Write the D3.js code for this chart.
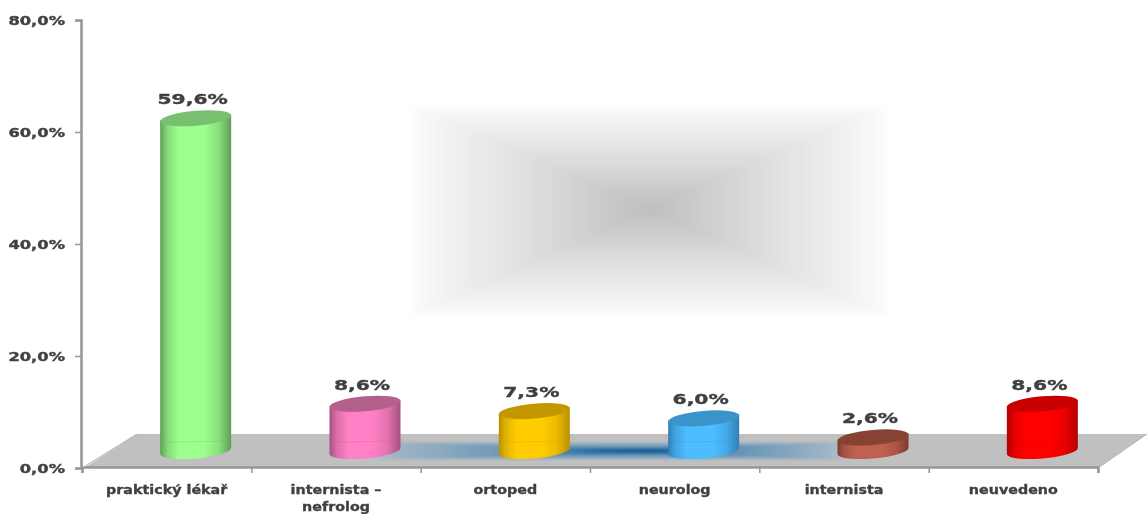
<!DOCTYPE html>
<html>
<head>
<meta charset="utf-8">
<script src="https://cdnjs.cloudflare.com/ajax/libs/d3/7.8.5/d3.min.js"></script>
<style>
    html, body { margin: 0; padding: 0; background: #ffffff; }
    svg { display: block; }
    text { font-family: "DejaVu Sans", sans-serif; font-weight: bold; fill: #404040; stroke: #404040; stroke-width: 0.35px; filter: blur(0.4px); }
</style>
</head>
<body>
<div id="chart"></div>
<script>
const categories = ["praktický lékař", ["internista –", "nefrolog"], "ortoped", "neurolog", "internista", "neuvedeno"];
const values = [59.6, 8.6, 7.3, 6.0, 2.6, 8.6];
const valueLabels = ["59,6%", "8,6%", "7,3%", "6,0%", "2,6%", "8,6%"];
const bodyColors = ["#9dff8c", "#ff80c4", "#ffcc00", "#4dbdff", "#c0614f", "#ff0000"];
const edgeColors = ["#5f9e56", "#a3527f", "#b98f00", "#2f80b3", "#7c3d31", "#b30000"];
const topColors = ["#78c070", "#b3608c", "#c49600", "#3a94c9", "#864334", "#c90000"];
const yTicks = [0, 20, 40, 60, 80];

const width = 1147, height = 514;
const margin = { top: 20, left: 82, bottom: 468, right: 1098 };
const depth = 17;   // posun zadni steny
const floorDepth = 34;

const svg = d3.select("#chart").append("svg")
    .attr("width", width)
    .attr("height", height);
const defs = svg.append("defs");

const y = d3.scaleLinear().domain([0, 80]).range([margin.bottom, margin.top]);
const x = d3.scaleBand().domain(d3.range(categories.length)).range([margin.left, margin.right]);
const xEdges = d3.scaleLinear().domain([0, categories.length]).range([margin.left, margin.right]);

// Obdelnikovy gradient - soustredne obdelniky od okraje ke stredu
function rectGradient(id, box, blur, color) {
    defs.append("filter").attr("id", id)
        .attr("x", "-5%").attr("y", "-20%").attr("width", "110%").attr("height", "140%")
        .append("feGaussianBlur").attr("stdDeviation", blur);
    const g = svg.append("g").attr("filter", `url(#${id})`);
    d3.range(0, 1, 1 / 70).forEach(t => {
        const l = box.cx - box.x0, r = box.x1 - box.cx, u = box.cy - box.y0, b = box.y1 - box.cy;
        g.append("rect")
            .attr("x", box.cx - l * (1 - t))
            .attr("y", box.cy - u * (1 - t))
            .attr("width", (l + r) * (1 - t))
            .attr("height", (u + b) * (1 - t))
            .attr("fill", color(t));
    });
}

// Stin uprostred pozadi
rectGradient("soft", { x0: 402, x1: 895, y0: 101, y1: 320, cx: 650, cy: 209 }, 2.5,
    d3.scaleLinear().domain([0, 0.15, 0.55, 1]).range(["#ffffff", "#f3f3f3", "#dcdcdc", "#bebebe"]));

// Podlaha
svg.append("polygon")
    .attr("points", [
        [margin.left + 2, margin.bottom],
        [margin.left + 55, margin.bottom - floorDepth],
        [width, margin.bottom - floorDepth],
        [margin.right, margin.bottom]
    ].join(" "))
    .attr("fill", "#c0c0c0");

// Modry stin na podlaze
rectGradient("floorSoft", { x0: 362, x1: 852, y0: 442, y1: 460, cx: 650, cy: 451 }, 0.8,
    d3.scaleLinear().domain([0, 0.12, 0.6, 0.85, 1]).range(["#c0c0c0", "#9fb4c4", "#5f90b5", "#20689f", "#0a5a9a"]));

// Osy
const axisColor = "#969696";
const yAxis = svg.append("g")
    .attr("transform", `translate(${margin.left - 1},0)`)
    .call(d3.axisLeft(y).tickValues(yTicks).tickSize(6).tickFormat(""));
const xAxis = svg.append("g")
    .attr("transform", `translate(0,${margin.bottom - 1})`)
    .call(d3.axisBottom(xEdges).ticks(categories.length).tickSize(6).tickFormat(""));
[yAxis, xAxis].forEach(a => {
    a.selectAll("path").attr("stroke", axisColor).attr("stroke-width", 2.5);
    a.selectAll("line").attr("stroke", axisColor).attr("stroke-width", 1.5);
});
svg.append("line")
    .attr("x1", margin.right).attr("y1", margin.bottom)
    .attr("x2", width).attr("y2", margin.bottom - floorDepth)
    .attr("stroke", "#b0b0b0");
svg.append("line")
    .attr("x1", margin.left).attr("y1", margin.bottom)
    .attr("x2", margin.left + 55).attr("y2", margin.bottom - floorDepth)
    .attr("stroke", "#b0b0b0");

// Valce
const rx = 35.5, ry = 7.5, tilt = -5;
const dy = rx * Math.sin(-tilt * Math.PI / 180);
const seam = 10;     // prechod u podlahy
values.forEach((v, i) => {
    const grad = defs.append("linearGradient").attr("id", `bar${i}`);
    const mix = d3.interpolateRgb(edgeColors[i], bodyColors[i]);
    [[0, edgeColors[i]], [0.1, mix(0.6)], [0.26, bodyColors[i]],
     [0.62, bodyColors[i]], [0.82, mix(0.7)], [1, edgeColors[i]]].forEach(d => {
        grad.append("stop").attr("offset", d[0]).attr("stop-color", d[1]);
    });

    const cx = x(i) + x.bandwidth() / 2 + 29;
    const base = y(0) - depth;
    const top = y(v) - depth;
    const g = svg.append("g");
    g.append("path")
        .attr("d", `M${cx - rx},${top + dy} L${cx - rx},${base + dy}
            A${rx},${ry} ${tilt} 0 0 ${cx + rx},${base - dy}
            L${cx + rx},${top - dy} Z`)
        .attr("fill", `url(#bar${i})`);
    // jemna hrana u podlahy
    if (top < base - seam) {
        g.append("path")
            .attr("d", `M${cx - rx},${base - seam + dy - 2} L${cx + rx},${base - seam + dy - 3}`)
            .attr("stroke", edgeColors[i])
            .attr("stroke-opacity", 0.2)
            .attr("fill", "none");
    }
    g.append("ellipse")
        .attr("transform", `translate(${cx},${top + 1}) rotate(${tilt})`)
        .attr("rx", rx).attr("ry", ry)
        .attr("fill", topColors[i]);

    svg.append("text")
        .attr("transform", `translate(${cx - 3},${top - 13}) scale(1.45,1)`)
        .attr("text-anchor", "middle")
        .attr("font-size", 14)
        .text(valueLabels[i]);
});

// Popisky osy Y
svg.append("g").selectAll("text")
    .data(yTicks)
    .enter().append("text")
    .attr("transform", d => `translate(65,${y(d) + 5}) scale(1.36,1)`)
    .attr("text-anchor", "end")
    .attr("font-size", 12)
    .text(d => d.toFixed(1).replace(".", ",") + "%");

// Popisky kategorii
categories.forEach((c, i) => {
    const lines = [].concat(c);
    lines.forEach((t, k) => {
        svg.append("text")
            .attr("transform", `translate(${x(i) + x.bandwidth() / 2},${494 + k * 17}) scale(1.1,1)`)
            .attr("text-anchor", "middle")
            .attr("font-size", 13)
            .text(t);
    });
});
</script>
</body>
</html>
